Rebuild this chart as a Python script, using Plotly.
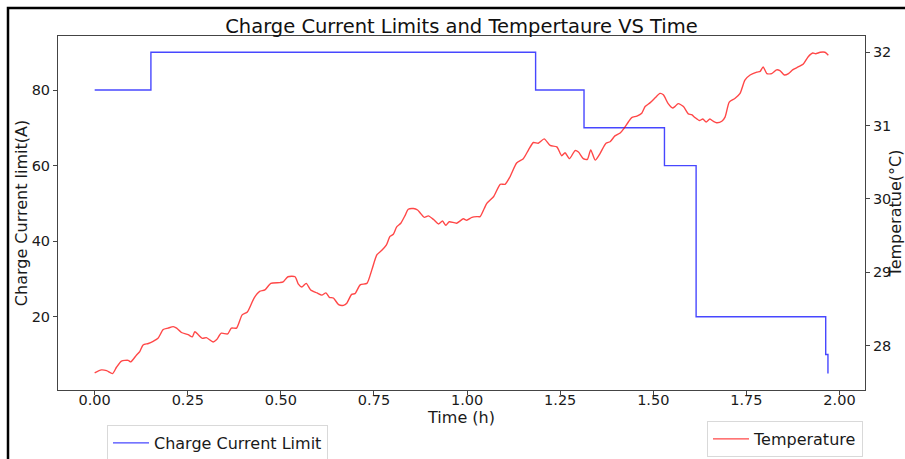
import plotly.graph_objects as go

# Charge current limit (step series)
current_time_h = [0.0, 0.151, 1.184, 1.314, 1.530, 1.615, 1.963, 1.969]
current_limit_a = [80, 90, 80, 70, 60, 20, 10, 5]

# Temperature series
temp_time_h = [
    0.000, 0.018, 0.032, 0.048, 0.059, 0.072, 0.090, 0.097, 0.112, 0.121,
    0.130, 0.144, 0.157, 0.170, 0.184, 0.197, 0.211, 0.220, 0.233, 0.251,
    0.262, 0.269, 0.278, 0.289, 0.300, 0.318, 0.327, 0.340, 0.357, 0.367,
    0.381, 0.396, 0.410, 0.428, 0.443, 0.457, 0.473, 0.497, 0.506, 0.519,
    0.538, 0.547, 0.556, 0.568, 0.580, 0.597, 0.610, 0.621, 0.630, 0.641,
    0.655, 0.668, 0.677, 0.690, 0.699, 0.713, 0.731, 0.744, 0.758, 0.771,
    0.783, 0.793, 0.802, 0.811, 0.822, 0.834, 0.842, 0.856, 0.867, 0.874,
    0.885, 0.896, 0.910, 0.923, 0.934, 0.943, 0.952, 0.972, 0.990, 0.999,
    1.013, 1.026, 1.035, 1.046, 1.053, 1.071, 1.089, 1.102, 1.115, 1.133,
    1.151, 1.165, 1.178, 1.191, 1.207, 1.223, 1.241, 1.254, 1.263, 1.275,
    1.290, 1.299, 1.312, 1.323, 1.332, 1.344, 1.357, 1.373, 1.384, 1.397,
    1.411, 1.421, 1.433, 1.442, 1.456, 1.469, 1.478, 1.491, 1.505, 1.518,
    1.527, 1.540, 1.552, 1.558, 1.567, 1.581, 1.594, 1.603, 1.612, 1.624,
    1.633, 1.642, 1.652, 1.661, 1.670, 1.684, 1.693, 1.704, 1.719, 1.733,
    1.746, 1.760, 1.778, 1.787, 1.795, 1.805, 1.818, 1.831, 1.840, 1.852,
    1.863, 1.874, 1.889, 1.903, 1.916, 1.928, 1.936, 1.948, 1.961, 1.970,
]
temperature_c = [
    27.63, 27.67, 27.66, 27.62, 27.71, 27.79, 27.80, 27.78, 27.87, 27.92,
    28.01, 28.03, 28.06, 28.10, 28.22, 28.24, 28.26, 28.24, 28.18, 28.15,
    28.12, 28.19, 28.15, 28.10, 28.11, 28.05, 28.08, 28.17, 28.16, 28.24,
    28.24, 28.42, 28.46, 28.65, 28.74, 28.76, 28.85, 28.86, 28.87, 28.94,
    28.94, 28.84, 28.80, 28.85, 28.76, 28.72, 28.69, 28.72, 28.66, 28.65,
    28.56, 28.55, 28.58, 28.70, 28.71, 28.83, 28.85, 29.03, 29.24, 29.30,
    29.37, 29.49, 29.52, 29.62, 29.67, 29.78, 29.86, 29.87, 29.85, 29.81,
    29.75, 29.77, 29.72, 29.66, 29.70, 29.64, 29.69, 29.67, 29.73, 29.71,
    29.75, 29.76, 29.76, 29.87, 29.94, 30.03, 30.20, 30.20, 30.30, 30.49,
    30.55, 30.67, 30.77, 30.76, 30.82, 30.73, 30.71, 30.59, 30.63, 30.55,
    30.66, 30.64, 30.55, 30.54, 30.67, 30.53, 30.62, 30.76, 30.78, 30.86,
    30.90, 30.96, 31.05, 31.11, 31.13, 31.17, 31.26, 31.31, 31.38, 31.44,
    31.42, 31.30, 31.24, 31.26, 31.30, 31.26, 31.16, 31.15, 31.11, 31.07,
    31.09, 31.05, 31.09, 31.06, 31.04, 31.06, 31.12, 31.32, 31.37, 31.44,
    31.62, 31.69, 31.73, 31.74, 31.80, 31.71, 31.71, 31.76, 31.75, 31.69,
    31.71, 31.76, 31.80, 31.84, 31.94, 31.99, 31.98, 32.00, 32.00, 31.96,
]

x_ticks = [0.0, 0.25, 0.5, 0.75, 1.0, 1.25, 1.5, 1.75, 2.0]
left_ticks = [20, 40, 60, 80]
right_ticks = [28, 29, 30, 31, 32]

FONT = "DejaVu Sans"
AX = "#444444"
TXT = "#1a1a1a"
LBL = 16

fig = go.Figure()
fig.add_trace(go.Scatter(
    x=current_time_h, y=current_limit_a, mode="lines", line_shape="hv",
    name="Charge Current Limit", line=dict(color="rgba(0,0,255,0.72)", width=1.4),
    legend="legend", yaxis="y", showlegend=True,
))
fig.add_trace(go.Scatter(
    x=temp_time_h, y=temperature_c, mode="lines", line_shape="spline",
    name="Temperature", line=dict(color="rgba(255,0,0,0.72)", width=1.4, smoothing=0.6),
    legend="legend2", yaxis="y2", showlegend=True,
))

axis_common = dict(
    showgrid=False, zeroline=False, showline=True, linecolor=AX, linewidth=1,
    ticks="outside", ticklen=4, tickcolor=AX, tickwidth=1,
    tickfont=dict(family=FONT, size=14.5, color=TXT),
)

legend_common = dict(
    xanchor="left", yanchor="top", bgcolor="white", bordercolor="#d9d9d9",
    borderwidth=1, itemwidth=36, font=dict(family=FONT, size=LBL, color=TXT),
)

fig.update_layout(
    width=905, height=459,
    margin=dict(l=58, r=40, t=36, b=69, autoexpand=False),
    paper_bgcolor="white", plot_bgcolor="white",
    showlegend=True,
    font=dict(family=FONT, size=LBL, color=TXT),
    title=dict(text="Charge Current Limits and Tempertaure VS Time",
               x=0.5, xref="paper", xanchor="center",
               y=1 - 26 / 459, yref="container", yanchor="middle",
               font=dict(family=FONT, size=19.5, color="#111")),
    xaxis=dict(range=[-0.0985, 2.0685], tickvals=x_ticks,
               ticktext=[f"{v:.2f}" for v in x_ticks], mirror=True,
               ticklabelstandoff=-7,
               title=dict(text="Time (h)", standoff=1,
                          font=dict(family=FONT, size=LBL, color=TXT)),
               **axis_common),
    yaxis=dict(range=[0.6, 94.3], tickvals=left_ticks,
               title=dict(text="Charge Current limit(A)", standoff=0,
                          font=dict(family=FONT, size=LBL, color=TXT)),
               **axis_common),
    yaxis2=dict(range=[27.396, 32.222], tickvals=right_ticks, overlaying="y",
                side="right", anchor="x",
                title=dict(text="Temperatue(°C)", standoff=6,
                           font=dict(family=FONT, size=LBL, color=TXT)),
                **axis_common),
    legend=dict(x=(107 - 58) / 807, y=(390 - 425) / 354, **legend_common),
    legend2=dict(x=(707 - 58) / 807, y=(390 - 421) / 354, **legend_common),
    shapes=[dict(type="rect", xref="paper", yref="paper",
                 x0=(8 - 58) / 807, x1=1.2, y0=-0.5, y1=(390 - 8) / 354,
                 line=dict(color="black", width=2.5), layer="above")],
)

fig.write_html("out.html", config={"displayModeBar": False})
